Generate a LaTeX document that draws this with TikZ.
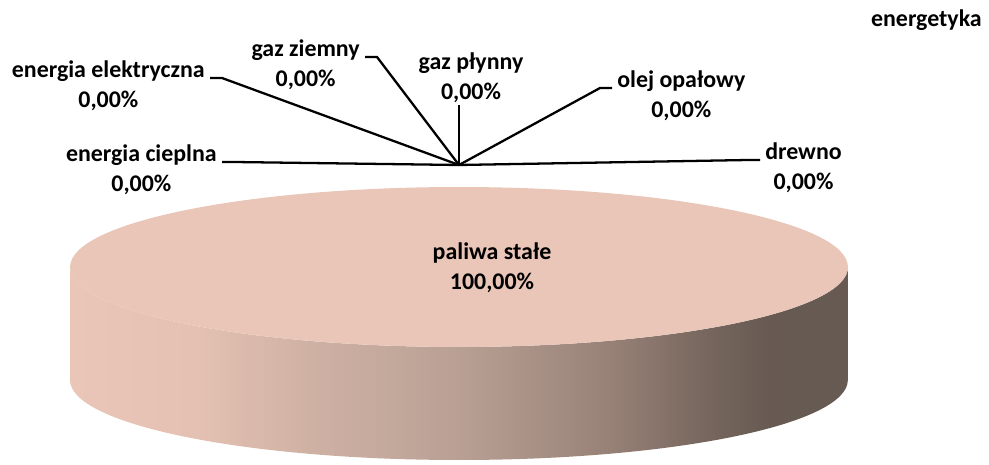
\documentclass[tikz,border=0pt]{standalone}
\usepackage{fontspec}
\setmainfont{Carlito}
\usetikzlibrary{positioning}
\definecolor{pietop}{RGB}{233,198,184}
\definecolor{side1}{RGB}{233,198,184}
\definecolor{side2}{RGB}{228,193,179}
\definecolor{side3}{RGB}{208,178,165}
\definecolor{side4}{RGB}{185,160,148}
\definecolor{side5}{RGB}{150,128,118}
\definecolor{side6}{RGB}{118,102,93}
\definecolor{side7}{RGB}{103,90,82}
\pgfdeclarehorizontalshading{sidefade}{100bp}{color(0bp)=(side1); color(25bp)=(side1); color(33bp)=(side2); color(40bp)=(side3); color(50bp)=(side4); color(60bp)=(side5); color(66bp)=(side6); color(70bp)=(side7); color(100bp)=(side7)}

\begin{document}
\begin{tikzpicture}
  [x=0.02cm, y=-0.02cm,
  lbl/.style={font=\bfseries\fontsize{13.6}{16}\selectfont, inner xsep=2.8pt, inner ysep=0pt, text height=9.5pt, text depth=2.5pt},
  val/.style={lbl, below=4.4pt of #1},
  leader/.style={line width=1.3pt, black}]
  \useasboundingbox (0,0) rectangle (989,465);
  \shade[shading=sidefade] (70,267) -- (70,380)
      arc[start angle=180, end angle=360, x radius=7.78cm, y radius=1.6cm]
      -- (848,267)
      arc[start angle=0, end angle=-180, x radius=7.78cm, y radius=1.6cm] -- cycle;
  \fill[pietop] (459,267) ellipse [x radius=7.78cm, y radius=1.6cm];
  \node[lbl, anchor=base] (pal) at (492,260) {paliwa stałe};
  \node[val=pal] (palv) {100,00\%};
  \node[lbl, anchor=base east] (title) at (987,27) {energetyka};
  \node[lbl, anchor=base east] (elek) at (210,78) {energia elektryczna};
  \node[val=elek] (elekv) {0,00\%};
  \node[lbl, anchor=base east] (ziem) at (365,57) {gaz ziemny};
  \node[val=ziem] (ziemv) {0,00\%};
  \node[lbl, anchor=base] (plyn) at (471,70) {gaz płynny};
  \node[val=plyn] (plynv) {0,00\%};
  \node[lbl, anchor=base west] (olej) at (612,88) {olej opałowy};
  \node[val=olej] (olejv) {0,00\%};
  \node[lbl, anchor=base west] (drew) at (760,160) {drewno};
  \node[val=drew] (drewv) {0,00\%};
  \node[lbl, anchor=base east] (ciep) at (222,162) {energia cieplna};
  \node[val=ciep] (ciepv) {0,00\%};
  \coordinate (c) at (459,165);
  \coordinate (elekk) at (222,78);
  \coordinate (ziemk) at (377,57);
  \coordinate (plynk) at (459,105);
  \coordinate (olejk) at (600,88);
  \coordinate (drewk) at (748,160);
  \coordinate (ciepk) at (234,162);
  \draw[leader] (c) -- (elekk) -- (elek.base east);
  \draw[leader] (c) -- (ziemk) -- (ziem.base east);
  \draw[leader] (c) -- (plynk);
  \draw[leader] (c) -- (olejk) -- (olej.base west);
  \draw[leader] (c) -- (drewk) -- (drew.base west);
  \draw[leader] (c) -- (ciepk) -- (ciep.base east);
\end{tikzpicture}
\end{document}
